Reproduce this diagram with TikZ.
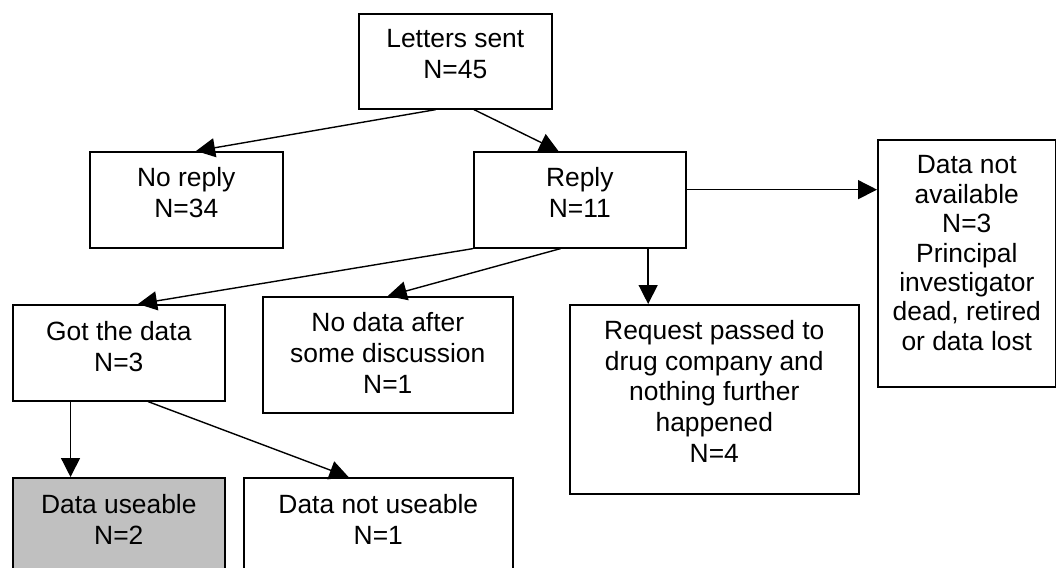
\documentclass[tikz,border=0pt]{standalone}
\usepackage{fontspec}
\setmainfont{Liberation Sans}
\usetikzlibrary{arrows.meta,calc}
\begin{document}
\begin{tikzpicture}[x=1pt,y=-1pt,
  box/.style={draw, line width=1.6pt, inner sep=0pt, anchor=north west},
  lbl/.style={anchor=north, inner sep=0pt, align=center, font=\fontsize{26.4}{30.7}\selectfont},
  arr/.style={line width=1.4pt, -{Triangle[length=19pt,width=19pt]}},
]
\useasboundingbox (0,0) rectangle (1056,567);
\clip (0,0) rectangle (1056,567);
% boxes
\node[box, minimum width=193pt, minimum height=95pt] (letters) at (358,13) {};
\node[box, minimum width=193pt, minimum height=96pt] (noreply) at (89,151) {};
\node[box, minimum width=212pt, minimum height=96pt] (reply) at (473,151) {};
\node[box, minimum width=178pt, minimum height=247pt] (dna) at (877,139) {};
\node[box, minimum width=212pt, minimum height=96pt] (got) at (12,304) {};
\node[box, minimum width=250pt, minimum height=116pt] (nodata) at (262,296) {};
\node[box, minimum width=289pt, minimum height=189pt] (request) at (569,304) {};
\node[box, fill={rgb,255:red,192;green,192;blue,192}, minimum width=212pt, minimum height=110pt] (useable) at (12,477) {};
\node[box, minimum width=269pt, minimum height=110pt] (notuseable) at (243,477) {};
% labels
\node[lbl] (tletters) at ($(letters.north)+(0,16.5)$) {Letters sent\\N=45};
\node[lbl] (tnoreply) at ($(noreply.north)+(0,16.5)$) {No reply\\N=34};
\node[lbl] (treply) at ($(reply.north)+(0,16.5)$) {Reply\\N=11};
\node[lbl, font=\fontsize{26.4}{29.4}\selectfont] (tdna) at ($(dna.north)+(0,16.5)$) {Data not\\available\\N=3\\Principal\\investigator\\dead, retired\\or data lost};
\node[lbl] (tgot) at ($(got.north)+(0,17)$) {Got the data\\N=3};
\node[lbl] (tnodata) at ($(nodata.north)+(0,16.5)$) {No data after\\some discussion\\N=1};
\node[lbl] (trequest) at ($(request.north)+(0,16)$) {Request passed to\\drug company and\\nothing further\\happened\\N=4};
\node[lbl] (tuseable) at ($(useable.north)+(0,17)$) {Data useable\\N=2};
\node[lbl] (tnotuseable) at ($(notuseable.north)+(0,17)$) {Data not useable\\N=1};
% connectors
\draw[arr] ($(letters.south west)!0.40!(letters.south east)$) -- ($(noreply.north west)!0.55!(noreply.north east)$);
\draw[arr] ($(letters.south west)!0.596!(letters.south east)$) -- ($(reply.north west)!0.40!(reply.north east)$);
\coordinate (rdna) at ($(reply.north east)!0.396!(reply.south east)$);
\draw[arr] (rdna) -- (rdna -| dna.west);
\draw[arr] (reply.south west) -- ($(got.north west)!0.59!(got.north east)$);
\draw[arr] ($(reply.south west)!0.41!(reply.south east)$) -- (nodata.north);
\coordinate (rreq) at ($(reply.south west)!0.82!(reply.south east)$);
\draw[arr] (rreq) -- (rreq |- request.north);
\coordinate (guse) at ($(got.south west)!0.274!(got.south east)$);
\draw[arr] (guse) -- (guse |- useable.north);
\draw[arr] ($(got.south west)!0.637!(got.south east)$) -- ($(notuseable.north west)!0.39!(notuseable.north east)$);
\end{tikzpicture}
\end{document}
